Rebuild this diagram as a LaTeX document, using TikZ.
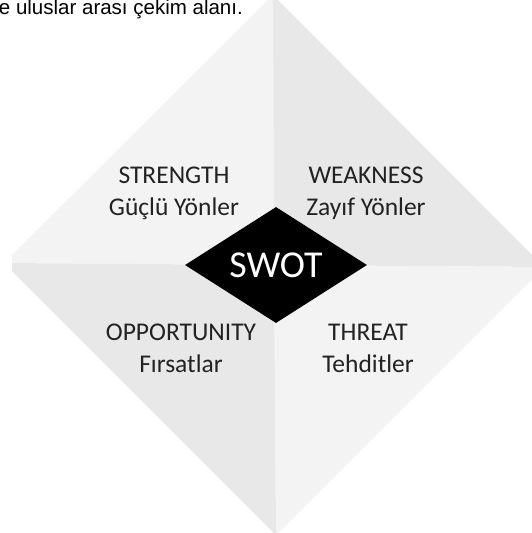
\documentclass[tikz,border=0pt]{standalone}
\usepackage{fontspec}
\setmainfont{Carlito}
\newfontfamily\captionfont{Liberation Sans}
\usetikzlibrary{shapes.geometric}

\definecolor{quadlight}{HTML}{F3F3F3}
\definecolor{quaddark}{HTML}{E8E8E8}
\definecolor{labelgray}{HTML}{222222}

\begin{document}
\begin{tikzpicture}[x=1pt, y=-1pt,
	lbl/.style={anchor=base, inner sep=0pt, text=labelgray, font=\fontsize{25.5}{30}\selectfont},
	swotbox/.style={diamond, fill=black, aspect=1.57, minimum width=182pt, minimum height=116pt, inner sep=0pt, text=white, font=\fontsize{38}{40}\selectfont}]
	\useasboundingbox (0,0) rectangle (532,533);
	% outer diamond, four quadrants
	\coordinate (c) at (274,265);
	\coordinate (top) at (273,-5);
	\coordinate (right) at (544,267);
	\coordinate (bottom) at (276,535);
	\coordinate (left) at (4,263);
	\begin{scope}
		\clip (12,-10) rectangle (545,545);
		\fill[quadlight] (c) -- (left) -- (top) -- cycle;
		\fill[quaddark] (c) -- (top) -- (right) -- cycle;
		\fill[quadlight] (c) -- (right) -- (bottom) -- cycle;
		\fill[quaddark] (c) -- (bottom) -- (left) -- cycle;
	\end{scope}
	% centre
	\node[swotbox] (swot) at (276,265) {SWOT};
	% labels
	\node[lbl] (strength) at (174,183) {STRENGTH};
	\node[lbl] (strengthtr) at (174,215) {Güçlü Yönler};
	\node[lbl] (weakness) at (366,183) {WEAKNESS};
	\node[lbl] (weaknesstr) at (366,215) {Zayıf Yönler};
	\node[lbl] (opportunity) at (181,340) {OPPORTUNITY};
	\node[lbl] (opportunitytr) at (181,372) {Fırsatlar};
	\node[lbl] (threat) at (368,340) {THREAT};
	\node[lbl] (threattr) at (368,372) {Tehditler};
	% cut-off line of text above
	\node[anchor=base east, inner sep=0pt, font=\captionfont\fontsize{20.5}{24}\selectfont] (caption) at (243,14) {e uluslar arası çekim alanı.};
\end{tikzpicture}
\end{document}
